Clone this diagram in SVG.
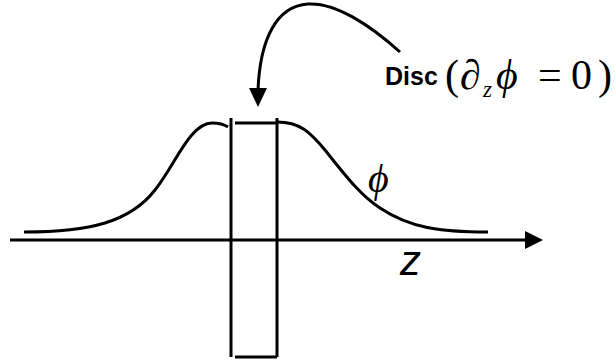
<svg xmlns="http://www.w3.org/2000/svg" width="615" height="362" viewBox="0 0 615 362">
<style>
.ln{fill:none;stroke:#000;stroke-width:3}
.hd{fill:#000;stroke:none}
.math{font-family:"Liberation Serif","DejaVu Serif",serif;fill:#000}
.it{font-style:italic}
.sans{font-family:"Liberation Sans",Arial,sans-serif;fill:#000}
</style>
<rect width="615" height="362" fill="#fff"/>
<g id="connectors">
<line class="ln" x1="10" y1="240" x2="527" y2="240"/>
<polygon class="hd" points="525,231 543,240 525,249"/>
<path class="ln" d="M400,52 C370,25 335,2 308,4 C276,6 260,40 258,90"/>
<polygon class="hd" points="249,88 267,88 258,107"/>
</g>
<g id="curve">
<path class="ln" d="M24,232 C90,232 130,222 155,190 C175,165 190,123 212,123 C220,123 225,125 228,127"/>
<path class="ln" d="M277,122 C300,122 310,132 325,150 C345,175 360,195 380,208 C410,228 440,232 488,232"/>
</g>
<g id="disc">
<line class="ln" x1="231" y1="118" x2="231" y2="357"/>
<line class="ln" x1="277" y1="118" x2="277" y2="357"/>
<line class="ln" x1="235" y1="123" x2="277" y2="123"/>
<line class="ln" x1="235" y1="357" x2="277" y2="357"/>
</g>
<g id="label-disc">
<text class="sans" x="385" y="85" font-size="25" font-weight="bold">Disc</text>
<text class="math" y="89" font-size="42"><tspan x="445">(</tspan><tspan class="it" x="460">∂</tspan><tspan class="it" x="483" y="97" font-size="23">z</tspan><tspan class="it" x="496" y="89">ϕ</tspan><tspan x="538">=</tspan><tspan x="571">0</tspan><tspan x="598">)</tspan></text>
</g>
<g id="label-phi">
<text class="math it" x="368" y="192" font-size="40">ϕ</text>
</g>
<g id="label-z">
<text class="sans" x="400" y="275" font-size="42" font-style="italic">z</text>
</g>
</svg>
